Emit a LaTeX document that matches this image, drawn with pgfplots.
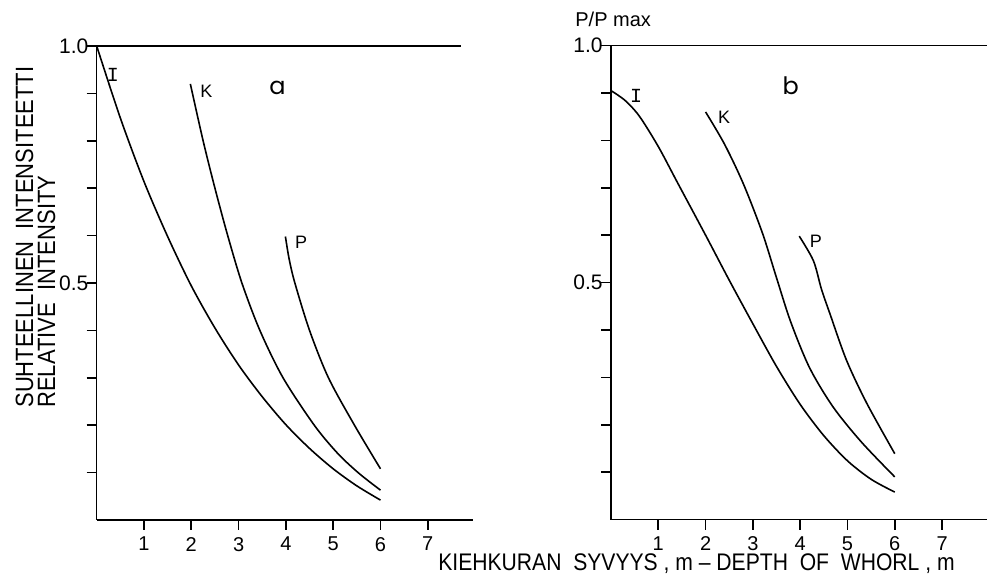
\documentclass[border=0pt]{standalone}
\usepackage{pgfplots}
\pgfplotsset{compat=1.18}
\usepackage{fontspec}
\setmainfont{Liberation Sans}
\setmonofont{Liberation Mono}
\newfontfamily\geo{Poppins}
\newfontfamily\cond[FakeStretch=0.88]{Liberation Sans}

% panel a
\pgfplotstableread{
x y
0.00 1.000
0.50 0.848
1.00 0.714
1.50 0.598
2.00 0.494
2.50 0.405
3.00 0.327
3.50 0.260
4.00 0.201
4.50 0.151
5.00 0.108
5.50 0.072
6.00 0.042
}\aI
\pgfplotstableread{
x y
1.98 0.920
2.25 0.800
2.50 0.700
2.77 0.600
3.07 0.500
3.45 0.400
3.94 0.300
4.60 0.200
5.10 0.140
5.55 0.098
6.00 0.063
}\aK
\pgfplotstableread{
x y
3.99 0.598
4.07 0.550
4.19 0.500
4.50 0.400
4.90 0.300
5.45 0.200
6.00 0.108
}\aP
% panel b
\pgfplotstableread{
x y
0.00 0.905
0.30 0.884
0.60 0.851
1.00 0.787
1.40 0.712
2.00 0.600
2.50 0.505
3.00 0.413
3.50 0.323
4.00 0.243
4.50 0.177
5.00 0.124
5.50 0.085
6.00 0.058
}\bI
\pgfplotstableread{
x y
2.00 0.860
2.40 0.792
2.80 0.708
3.20 0.605
3.50 0.510
3.80 0.417
4.20 0.320
4.70 0.237
5.30 0.163
6.00 0.090
}\bK
\pgfplotstableread{
x y
3.98 0.598
4.28 0.546
4.45 0.486
4.63 0.434
4.98 0.336
5.41 0.245
6.00 0.139
}\bP

\pgfplotsset{
  panel/.style={
    scale only axis, width=188pt, height=237pt,
    xmin=0, xmax=7.95, ymin=0, ymax=1,
    axis x line=bottom, axis y line=left,
    axis line style={-, line width=0.8pt},
    tick align=outside, major tick length=5pt,
    tick style={line width=0.8pt, black},
    xtick={1,2,3,4,5,6,7},
    ytick={0.1,0.2,0.3,0.4,0.5,0.6,0.7,0.8,0.9,1.0},
    yticklabels={,,,,0.5,,,,,1.0},
    /pgf/number format/assume math mode=true,
    ticklabel style={font=\fontsize{10}{12}\selectfont},
    yticklabel style={inner sep=0.5pt, xshift=1.5pt, font=\fontsize{10.5}{12}\selectfont},
    clip=false,
    cycle list={{black, mark=none}},
    every axis plot post/.append style={black, line width=0.8pt, smooth, mark=none},
  },
}
\tikzset{
  curvelab/.style={font=\fontsize{9}{10}\selectfont, inner sep=0pt},
  panlab/.style={font=\geo\fontsize{12}{14}\selectfont, inner sep=0pt},
}

\begin{document}
\begin{tikzpicture}
\useasboundingbox (0pt,0pt) rectangle (493.5pt,288pt);

\begin{axis}[panel, at={(48.35pt,28pt)}, anchor=south west]
\addplot coordinates {(0,1) (7.7,1)};
\addplot table {\aI};
\addplot table {\aK};
\addplot table {\aP};
\node[curvelab] at (axis cs:0.34,0.94) {\ttfamily\fontsize{10}{11}\selectfont I};
\node[curvelab] at (axis cs:2.32,0.904) {K};
\node[curvelab] at (axis cs:4.32,0.585) {P};
\node[panlab] at (axis cs:3.82,0.912) {a};
\end{axis}

\begin{axis}[panel, at={(305.5pt,28.2pt)}, anchor=south west]
\addplot coordinates {(0,1) (7.95,1)};
\addplot table {\bI};
\addplot table {\bK};
\addplot table {\bP};
\node[curvelab] at (axis cs:0.53,0.893) {\ttfamily\fontsize{10}{11}\selectfont I};
\node[curvelab] at (axis cs:2.39,0.849) {K};
\node[curvelab] at (axis cs:4.33,0.588) {P};
\node[panlab] at (axis cs:3.80,0.915) {b};
\end{axis}

\node[rotate=90, anchor=base west, inner sep=0pt, font=\cond\fontsize{12.5}{14}\selectfont] at (16.5pt,84pt) {SUHTEELLINEN\ \ INTENSITEETTI};
\node[rotate=90, anchor=base west, inner sep=0pt, font=\cond\fontsize{12.5}{14}\selectfont] at (27.5pt,84pt) {RELATIVE\ \ INTENSITY};
\node[anchor=base west, inner sep=0pt, font=\fontsize{10}{12}\selectfont] at (287.5pt,274.5pt) {P/P max};
\node[anchor=base, inner sep=0pt, font=\cond\fontsize{12}{14}\selectfont] at (348.25pt,2.5pt) {KIEHKURAN\ \ SYVYYS , m – DEPTH\ \ OF\ \ WHORL , m};
\end{tikzpicture}
\end{document}
